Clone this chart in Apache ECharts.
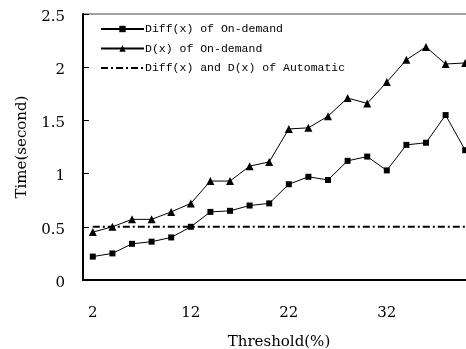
<!DOCTYPE html>
<html>
<head>
<meta charset="utf-8">
<script src="https://cdn.jsdelivr.net/npm/echarts@6/dist/echarts.min.js"></script>
<style>html,body{margin:0;padding:0;background:#fff}#c{width:466px;height:349px}</style>
</head>
<body>
<div id="c"></div>
<script>
var categories = ['2','4','6','8','10','12','14','16','18','20','22','24','26','28','30','32','34','36','38','40'];
var diffOnDemand = [0.22,0.25,0.34,0.36,0.40,0.50,0.64,0.65,0.70,0.72,0.90,0.97,0.94,1.12,1.16,1.03,1.27,1.29,1.55,1.22];
var dOnDemand = [0.45,0.50,0.57,0.57,0.64,0.72,0.93,0.93,1.07,1.11,1.42,1.43,1.54,1.71,1.66,1.86,2.07,2.19,2.03,2.04];
var automatic = [0.5,0.5,0.5,0.5,0.5,0.5,0.5,0.5,0.5,0.5,0.5,0.5,0.5,0.5,0.5,0.5,0.5,0.5,0.5,0.5];
var seriesNames = ['Diff(x) of On-demand','D(x) of On-demand','Diff(x) and D(x) of Automatic'];

var serif = 'DejaVu Serif';
var mono = 'Liberation Mono';
var chart = echarts.init(document.getElementById('c'));
chart.setOption({
  animation: false,
  backgroundColor: '#fff',
  grid: {left: 83, top: 14, width: 392, height: 266, outerBoundsMode: 'none', containLabel: false,
         show: true, borderColor: '#444', borderWidth: 1, backgroundColor: 'transparent'},
  legend: {
    orient: 'vertical', left: 100, top: 23, padding: 0, itemWidth: 43, itemHeight: 8, itemGap: 7.5,
    textStyle: {fontFamily: mono, fontSize: 11.5, color: '#000', padding: [0,0,0,-4]},
    data: [{name: seriesNames[0]}, {name: seriesNames[1]},
           {name: seriesNames[2], itemStyle: {color: 'rgba(0,0,0,0)', borderWidth: 0, opacity: 0}}]
  },
  xAxis: {
    type: 'category', data: categories, boundaryGap: true,
    name: 'Threshold(%)', nameLocation: 'middle', nameGap: 55,
    nameTextStyle: {fontFamily: serif, fontSize: 15, color: '#000'},
    axisLine: {lineStyle: {color: '#000', width: 2}},
    axisTick: {inside: true, length: 6, interval: 4, alignWithLabel: false, lineStyle: {color: '#000'}},
    axisLabel: {interval: 4, margin: 26, fontFamily: serif, fontSize: 15, color: '#000'},
    splitLine: {show: false}
  },
  yAxis: {
    type: 'value', min: 0, max: 2.5, interval: 0.5,
    name: 'Time(second)', nameLocation: 'middle', nameGap: 53, nameRotate: 90,
    nameTextStyle: {fontFamily: serif, fontSize: 15, color: '#000'},
    axisLine: {show: true, lineStyle: {color: '#000', width: 2}},
    axisTick: {show: true, inside: true, length: 6, lineStyle: {color: '#000'}},
    axisLabel: {margin: 18, verticalAlign: 'top', lineHeight: 6, fontFamily: serif, fontSize: 15, color: '#000'},
    splitLine: {show: false}
  },
  series: [
    {name: seriesNames[0], type: 'line', data: diffOnDemand, symbol: 'rect', symbolSize: 6,
     itemStyle: {color: '#000'}, lineStyle: {color: '#000', width: 1}, z: 3},
    {name: seriesNames[1], type: 'line', data: dOnDemand, symbol: 'triangle', symbolSize: 8,
     itemStyle: {color: '#000'}, lineStyle: {color: '#000', width: 1}, z: 3},
    {name: seriesNames[2], type: 'line', data: automatic, symbol: 'none', showSymbol: false,
     itemStyle: {color: '#000'}, lineStyle: {color: '#000', width: 2, type: [7,3,2,3]}, z: 2}
  ]
});
</script>
</body>
</html>
